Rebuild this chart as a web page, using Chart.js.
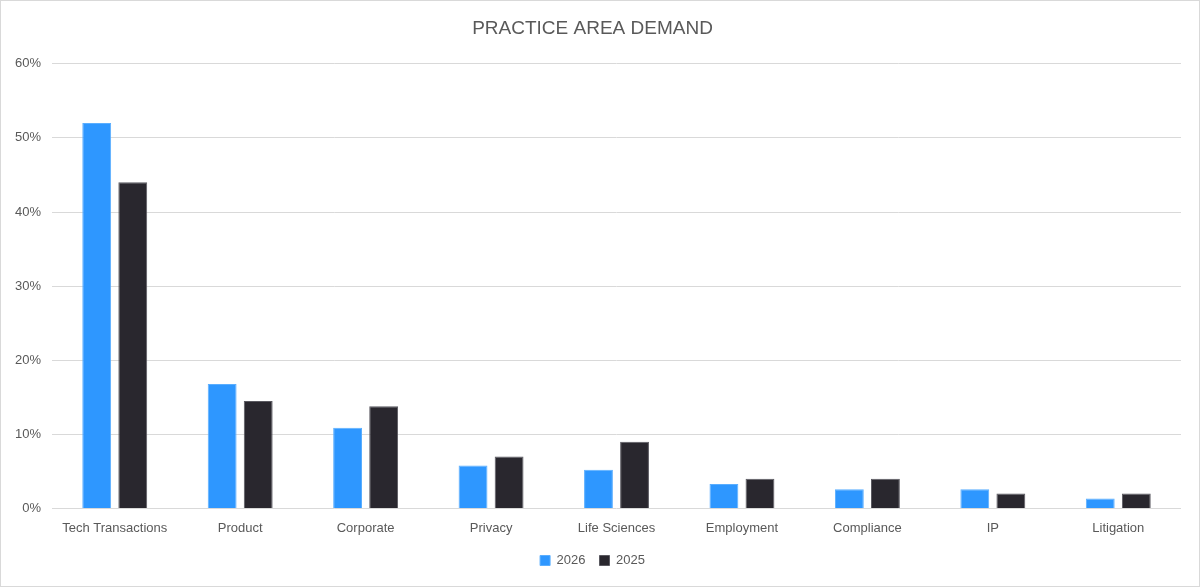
<!DOCTYPE html>
<html>
<head>
<meta charset="utf-8">
<script src="https://cdn.jsdelivr.net/npm/chart.js@4.4.0/dist/chart.umd.min.js"></script>
<style>
  html, body { margin: 0; padding: 0; background: #fff; }
  #wrap { width: 1200px; height: 587px; box-sizing: border-box; border: 1px solid #d9d9d9; }
  canvas { display: block; }
</style>
</head>
<body>
<div id="wrap"><canvas id="c" width="1198" height="585"></canvas></div>
<script>
const categories = ["Tech Transactions", "Product", "Corporate", "Privacy", "Life Sciences", "Employment", "Compliance", "IP", "Litigation"];
const values2026 = [52.0, 16.8, 10.9, 5.8, 5.2, 3.3, 2.6, 2.6, 1.35];
const values2025 = [44.0, 14.5, 13.8, 7.0, 9.0, 4.0, 4.0, 2.0, 2.0];
const yTicks = [0, 10, 20, 30, 40, 50, 60];

const FONT = "'Liberation Sans', Arial, sans-serif";
Chart.defaults.font.family = FONT;
Chart.defaults.color = '#595959';

new Chart(document.getElementById('c'), {
  type: 'bar',
  data: {
    labels: categories,
    datasets: [
      { label: '2026', data: values2026, backgroundColor: '#2E97FF', borderColor: '#5AAEFF', borderWidth: 1, barPercentage: 0.8, categoryPercentage: 0.575 },
      { label: '2025', data: values2025, backgroundColor: '#29272E', borderColor: '#5a5960', borderWidth: 1, barPercentage: 0.8, categoryPercentage: 0.575 }
    ]
  },
  options: {
    responsive: false,
    devicePixelRatio: 1,
    animation: false,
    layout: { padding: { top: 13, left: 3, right: 18, bottom: 9 } },
    plugins: {
      title: { display: true, text: 'PRACTICE AREA DEMAND', font: { size: 19, weight: 'normal' }, color: '#595959', padding: { top: 3, bottom: 24 } },
      legend: { position: 'bottom', labels: { boxWidth: 10, boxHeight: 10, font: { size: 13 }, color: '#595959', padding: 14 } },
      tooltip: { enabled: false }
    },
    scales: {
      x: {
        grid: { display: false },
        border: { display: false },
        ticks: { font: { size: 13 }, color: '#595959', padding: 4, maxRotation: 0, autoSkip: false }
      },
      y: {
        min: 0, max: 60,
        afterBuildTicks: (axis) => { axis.ticks = yTicks.map(v => ({ value: v })); },
        grid: { color: '#d9d9d9', lineWidth: 1, drawTicks: false },
        border: { display: false },
        ticks: { font: { size: 13 }, color: '#595959', padding: 11, callback: v => v + '%' }
      }
    }
  }
});
</script>
</body>
</html>
